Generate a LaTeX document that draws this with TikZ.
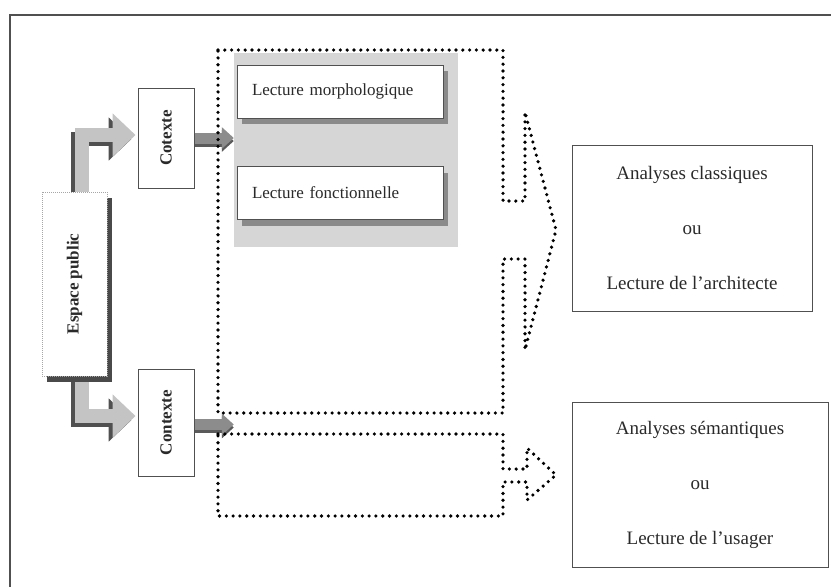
\documentclass[tikz,border=0pt]{standalone}
\usepackage{fontspec}
\setmainfont{Liberation Serif}
\usepackage{graphicx}
\usetikzlibrary{arrows.meta,shadows,calc}
\definecolor{txt}{HTML}{2A2A2A}
\definecolor{boxline}{HTML}{505050}
\definecolor{areagray}{HTML}{D6D6D6}
\definecolor{bentlight}{HTML}{C4C4C4}
\definecolor{bentdark}{HTML}{505050}
\definecolor{espshadow}{HTML}{4A4A4A}
\definecolor{lshadow}{HTML}{8A8A8A}
\definecolor{smallarrow}{HTML}{8C8C8C}
\definecolor{smalldark}{HTML}{5A5A5A}
\begin{document}
\begin{tikzpicture}[x=1pt,y=-1pt,
  box/.style={draw=boxline, line width=1pt, fill=white, inner sep=0pt, text=txt},
  vbox/.style={box, minimum width=56pt, font=\fontsize{17}{20}\selectfont\bfseries},
  lect/.style={box, minimum width=206pt, minimum height=53pt, inner xsep=15pt, text width=176pt, align=left,
    general shadow={shadow xshift=5pt, shadow yshift=-6pt, fill=lshadow, draw=none},
    font=\fontsize{17}{20}\selectfont},
  result/.style={box, align=center, font=\fontsize{19}{55}\selectfont},
  bent/.style={line width=14pt, line join=miter, draw=bentlight, -{Triangle[length=23pt,width=42pt]}},
  bentshadow/.style={bent, draw=bentdark, transform canvas={xshift=-4pt, yshift=-4pt}},
  small/.style={line width=11pt, draw=smallarrow, -{Triangle[length=12pt,width=21pt]}},
  smallshadow/.style={small, draw=smalldark, transform canvas={yshift=-3pt}},
  dotline/.style={line width=3.6pt, line cap=round, dash pattern=on 0pt off 6.8pt},
  frameline/.style={draw=boxline, line width=1.5pt}
]
\useasboundingbox (0,0) rectangle (831,587);
\fill[white] (0,0) rectangle (831,587);
\draw[frameline] (10,587) -- (10,15) -- (831,15);

% boxes (positions)
\node[vbox, minimum height=100pt] (cot) at (166,138) {\rotatebox{90}{Cotexte}};
\node[vbox, minimum height=107pt] (con) at (166,422.5) {\rotatebox{90}{Contexte}};
\node[fill=areagray, minimum width=224pt, minimum height=194pt, inner sep=0pt] (area) at (346,150) {};
\node[lect] (morph) at (340,91.5) {Lecture morphologique};
\node[lect] (fonc) at (340,193) {Lecture fonctionnelle};

% bent arrows from Espace public
\coordinate (espN) at (82,192);
\coordinate (espS) at (82,376);
\draw[bentshadow] (espN) |- ($(cot.west)+(-2,-3)$);
\draw[bentshadow] (espS) |- ($(con.west)+(-2,-6.5)$);
\draw[bent] (espN) |- ($(cot.west)+(-2,-3)$);
\draw[bent] (espS) |- ($(con.west)+(-2,-6.5)$);

\node[box, draw=gray!70, densely dotted, line width=0.8pt, minimum width=65pt, minimum height=184pt,
  general shadow={shadow xshift=5pt, shadow yshift=-6pt, fill=espshadow, draw=none, solid},
  font=\fontsize{17}{20}\selectfont\bfseries] (esp) at (74.5,284) {\rotatebox{90}{Espace public}};

% small arrows
\draw[smallshadow] (cot.east) -- (cot.east -| area.west);
\draw[smallshadow] ($(con.east)+(0,2)$) -- ($(con.east -| area.west)+(0,2)$);
\draw[small] (cot.east) -- (cot.east -| area.west);
\draw[small] ($(con.east)+(0,2)$) -- ($(con.east -| area.west)+(0,2)$);

% dotted arrow shapes
\draw[dotline] (218,50) -- (503,50) -- (503,201) -- (525,201) -- (525,112) -- (556,230)
  -- (525,350) -- (525,259) -- (503,259) -- (503,413) -- (218,413) -- cycle;
\draw[dotline] (218,434) -- (503,434) -- (503,469) -- (527,469) -- (527,448) -- (556,475)
  -- (527,500) -- (527,482) -- (503,482) -- (503,516) -- (218,516) -- cycle;

% result boxes
\node[result, minimum width=240pt, minimum height=166pt] (cl) at (692,228)
  {Analyses classiques\\ou\\Lecture de l’architecte};
\node[result, minimum width=256pt, minimum height=165pt] (sem) at (700,484.5)
  {Analyses sémantiques\\ou\\Lecture de l’usager};
\end{tikzpicture}
\end{document}
